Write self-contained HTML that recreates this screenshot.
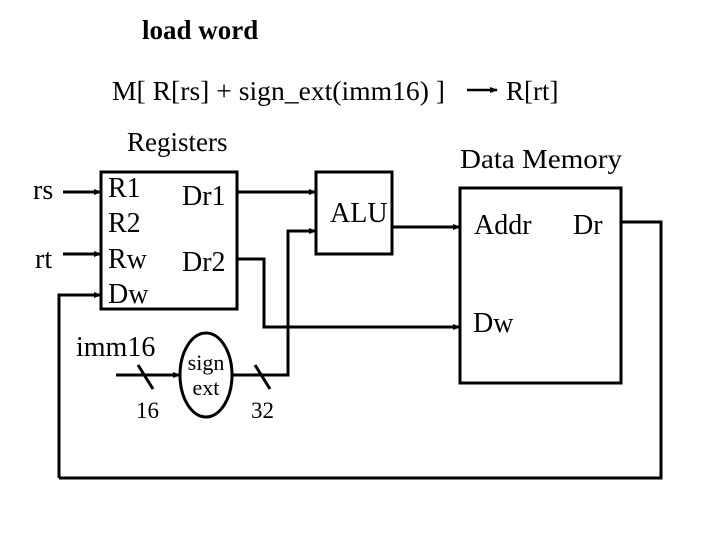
<!DOCTYPE html>
<html><head><meta charset="utf-8"><style>
html,body{margin:0;padding:0;background:#fff;width:720px;height:540px;overflow:hidden}
svg{display:block}
text{font-family:"Liberation Serif",serif;fill:#000}
</style></head><body>
<svg width="720" height="540" viewBox="0 0 720 540" xmlns="http://www.w3.org/2000/svg">
<defs><marker id="a" markerWidth="8" markerHeight="6" refX="7" refY="3" orient="auto" markerUnits="userSpaceOnUse"><path d="M0,0 L8,3 L0,6z" fill="#000"/></marker></defs>
<text x="142" y="39" font-size="27" font-weight="bold">load word</text>
<text x="112" y="100" font-size="27" textLength="333" lengthAdjust="spacingAndGlyphs">M[ R[rs] + sign_ext(imm16) ]</text>
<line x1="467" y1="90" x2="497" y2="90" stroke="#000" stroke-width="2.5" marker-end="url(#a)"/>
<text x="506" y="100" font-size="27">R[rt]</text>
<text x="127" y="151" font-size="27">Registers</text>
<text x="460" y="168" font-size="27" textLength="162" lengthAdjust="spacingAndGlyphs">Data  Memory</text>
<g fill="none" stroke="#000" stroke-width="3">
<rect x="101" y="172" width="136" height="137"/>
<rect x="316" y="172" width="76" height="82"/>
<rect x="460" y="188" width="161" height="195"/>
<ellipse cx="206" cy="375" rx="26" ry="42"/>
</g>
<text x="33" y="199" font-size="28">rs</text>
<text x="35" y="268" font-size="28">rt</text>
<text x="108" y="197" font-size="28">R1</text>
<text x="108" y="232" font-size="28">R2</text>
<text x="108" y="268" font-size="28">Rw</text>
<text x="108" y="303" font-size="28">Dw</text>
<text x="182" y="205" font-size="28">Dr1</text>
<text x="182" y="271" font-size="28">Dr2</text>
<text x="330" y="222" font-size="28">ALU</text>
<text x="474" y="234" font-size="28">Addr</text>
<text x="573" y="234" font-size="28">Dr</text>
<text x="473" y="332" font-size="28">Dw</text>
<text x="76" y="356" font-size="28">imm16</text>
<text x="136" y="418" font-size="23">16</text>
<text x="251" y="418" font-size="23">32</text>
<text x="206" y="370" font-size="22" text-anchor="middle">sign</text>
<text x="206" y="395" font-size="22" text-anchor="middle">ext</text>
<g fill="none" stroke="#000" stroke-width="3">
<line x1="63" y1="192" x2="101" y2="192" marker-end="url(#a)"/>
<line x1="63" y1="254" x2="101" y2="254" marker-end="url(#a)"/>
<polyline points="59,478 59,295 101,295" marker-end="url(#a)"/>
<line x1="237" y1="192" x2="316" y2="192" marker-end="url(#a)"/>
<polyline points="237,259 264,259 264,327 460,327" marker-end="url(#a)"/>
<line x1="116" y1="375" x2="180" y2="375" marker-end="url(#a)"/>
<polyline points="232,375 288,375 288,231 316,231" marker-end="url(#a)"/>
<line x1="392" y1="227" x2="460" y2="227" marker-end="url(#a)"/>
<polyline points="621,222 661,222 661,478 59,478"/>
<line x1="138" y1="365" x2="153" y2="389"/>
<line x1="255" y1="365" x2="270" y2="389"/>
</g>
</svg>
</body></html>
